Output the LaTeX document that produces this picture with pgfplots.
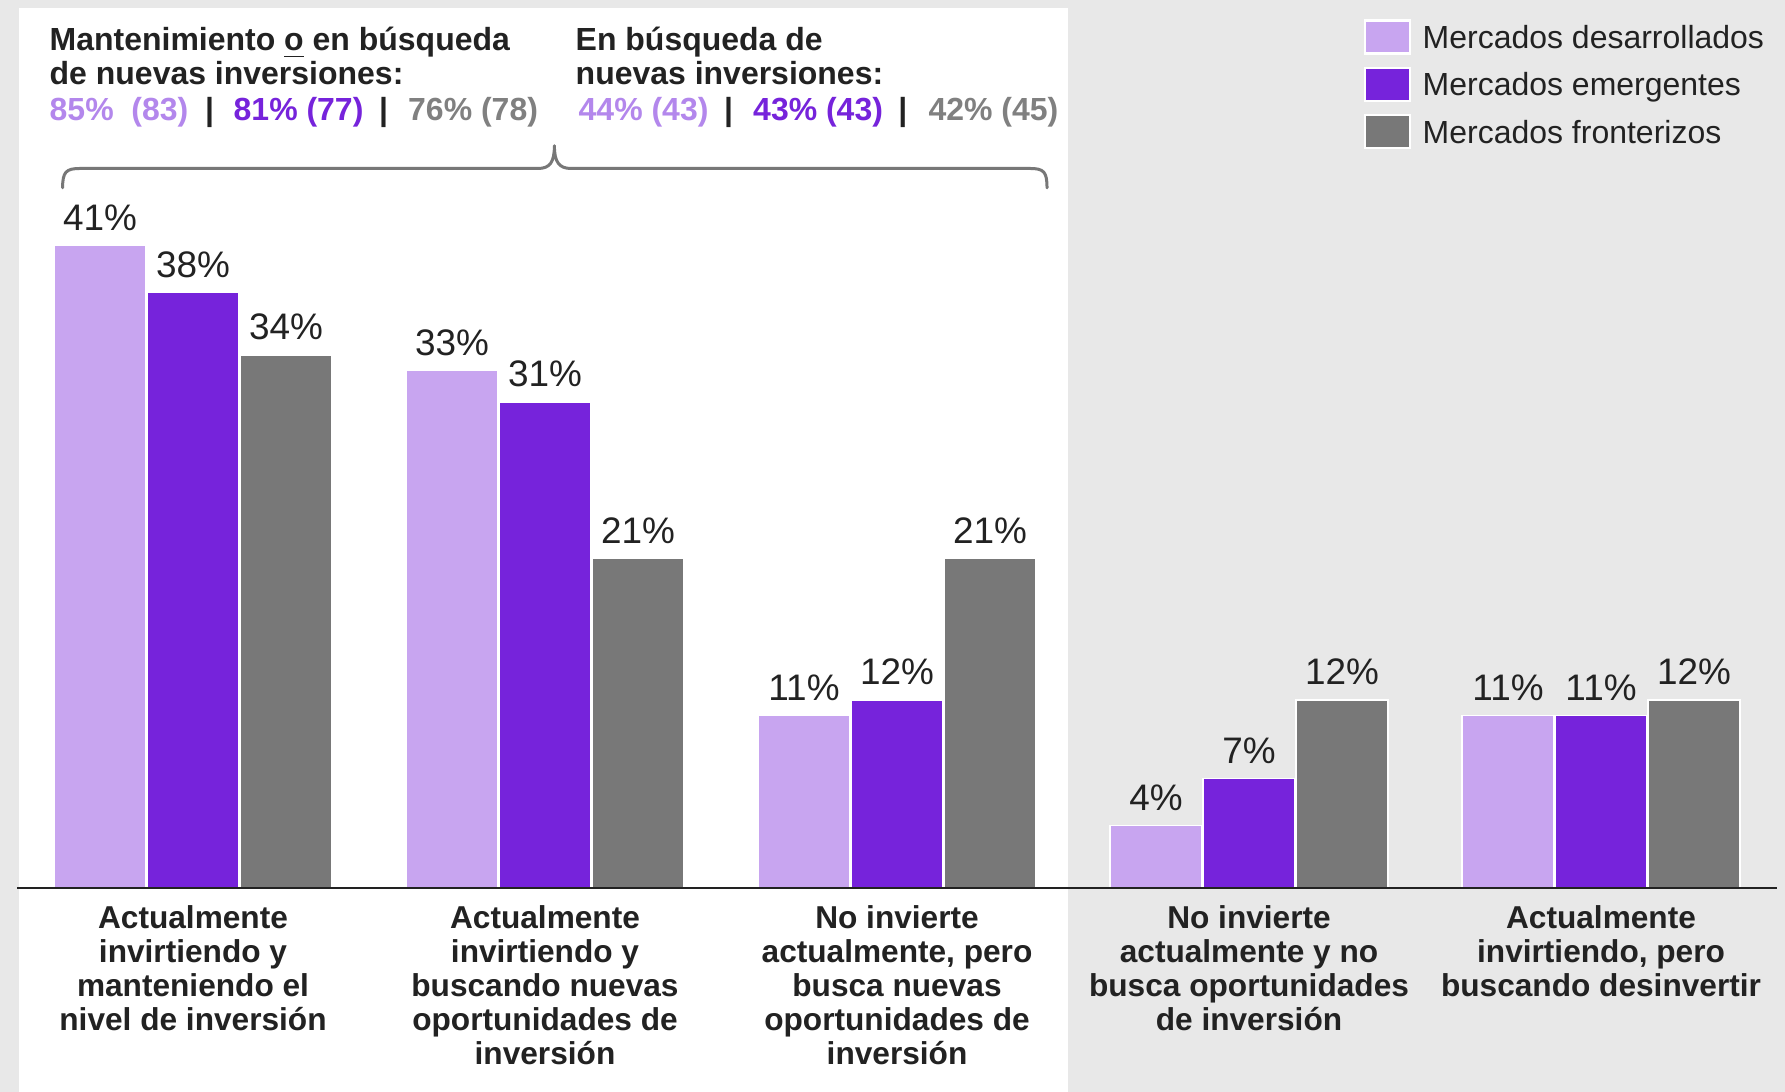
\documentclass[border=0pt]{standalone}
\usepackage{pgfplots}
\pgfplotsset{compat=1.18}
\usepackage{fontspec}
\setmainfont{Liberation Sans}

\definecolor{desarr}{HTML}{C8A5F0}
\definecolor{emerg}{HTML}{7623DB}
\definecolor{fronte}{HTML}{787878}
\definecolor{desarrtxt}{HTML}{B387EC}
\definecolor{frontetxt}{HTML}{808080}
\definecolor{fondo}{HTML}{E8E8E8}
\definecolor{texto}{HTML}{222222}
\definecolor{llave}{HTML}{777777}

\begin{document}
\begin{tikzpicture}
% fondo gris y panel blanco
\fill[fondo] (0,0) rectangle (17.85,10.92);
\fill[white] (0.19,0) rectangle (10.68,10.84);

\begin{axis}[
  at={(0.17cm,2.04cm)}, anchor=south west,
  x=3.52cm, y=0.1568cm,
  xmin=-0.5, xmax=4.5, ymin=0, ymax=50,
  ybar=0.01cm, bar width=0.92cm,
  axis on top,
  axis x line*=bottom, axis y line=none,
  x axis line style={texto, line width=0.7pt},
  xtick={0,...,4}, xtick style={draw=none},
  xticklabels={
    {Actualmente\\invirtiendo y\\manteniendo el\\nivel de inversión},
    {Actualmente\\invirtiendo y\\buscando nuevas\\oportunidades de\\inversión},
    {No invierte\\actualmente, pero\\busca nuevas\\oportunidades de\\inversión},
    {No invierte\\actualmente y no\\busca oportunidades\\de inversión},
    {Actualmente\\invirtiendo, pero\\buscando desinvertir}},
  xticklabel style={align=center, anchor=north, inner sep=0pt, yshift=-0.02cm,
    font=\bfseries\fontsize{9}{9.7}\selectfont, text=texto},
  ytick=\empty,
  clip=false,
  /pgf/number format/assume math mode=true,
  nodes near coords={\pgfmathprintnumber{\pgfplotspointmeta}\%},
  nodes near coords style={font=\fontsize{10.5}{12}\selectfont, text=texto,
    inner sep=0pt, anchor=south, yshift=0.14cm},
]
\addplot[fill=desarr, draw=white, line width=0.4pt] coordinates {(0,41) (1,33) (2,11) (3,4) (4,11)};
\addplot[fill=emerg, draw=white, line width=0.4pt] coordinates {(0,38) (1,31) (2,12) (3,7) (4,11)};
\addplot[fill=fronte, draw=white, line width=0.4pt] coordinates {(0,34) (1,21) (2,21) (3,12) (4,12)};
\end{axis}

% leyenda
\begin{scope}[every node/.style={inner sep=0pt, anchor=base west, font=\fontsize{9.1}{11}\selectfont, text=texto}]
\foreach \c/\t [count=\i from 0] in {desarr/Mercados desarrollados, emerg/Mercados emergentes, fronte/Mercados fronterizos}{
  \pgfmathsetmacro{\yc}{10.55-0.473*\i}
  \draw[fill=\c, draw=white, line width=0.6pt] (13.65,\yc-0.165) rectangle (14.10,\yc+0.165);
  \node at (14.22,\yc-0.115) {\t};
}
\end{scope}

% encabezados
\begin{scope}[every node/.style={inner sep=0pt, anchor=base west, font=\bfseries\fontsize{9.1}{10}\selectfont, text=texto}]
\node at (0.49,10.41) {Mantenimiento \underline{o} en búsqueda};
\node at (0.49,10.07) {de nuevas inversiones:};
\node[text=desarrtxt] at (0.49,9.71) {85\%\ \ (83)};
\node[anchor=base] at (2.095,9.71) {|};
\node[text=emerg] at (2.33,9.71) {81\% (77)};
\node[anchor=base] at (3.836,9.71) {|};
\node[text=frontetxt] at (4.075,9.71) {76\% (78)};
\node at (5.75,10.41) {En búsqueda de};
\node at (5.75,10.07) {nuevas inversiones:};
\node[text=desarrtxt] at (5.78,9.71) {44\% (43)};
\node[anchor=base] at (7.286,9.71) {|};
\node[text=emerg] at (7.525,9.71) {43\% (43)};
\node[anchor=base] at (9.028,9.71) {|};
\node[text=frontetxt] at (9.278,9.71) {42\% (45)};
\end{scope}

% llave
\draw[llave, line width=0.03cm, line cap=round, line join=round]
  (0.626,9.042) .. controls (0.626,9.20) and (0.66,9.235) .. (0.80,9.235)
  -- (5.38,9.235) .. controls (5.50,9.235) and (5.544,9.30) .. (5.544,9.463)
  .. controls (5.544,9.30) and (5.59,9.235) .. (5.71,9.235)
  -- (10.30,9.235) .. controls (10.44,9.235) and (10.47,9.20) .. (10.47,9.042);

\pgfresetboundingbox
\path[use as bounding box] (0,0) rectangle (17.85,10.92);
\end{tikzpicture}
\end{document}
